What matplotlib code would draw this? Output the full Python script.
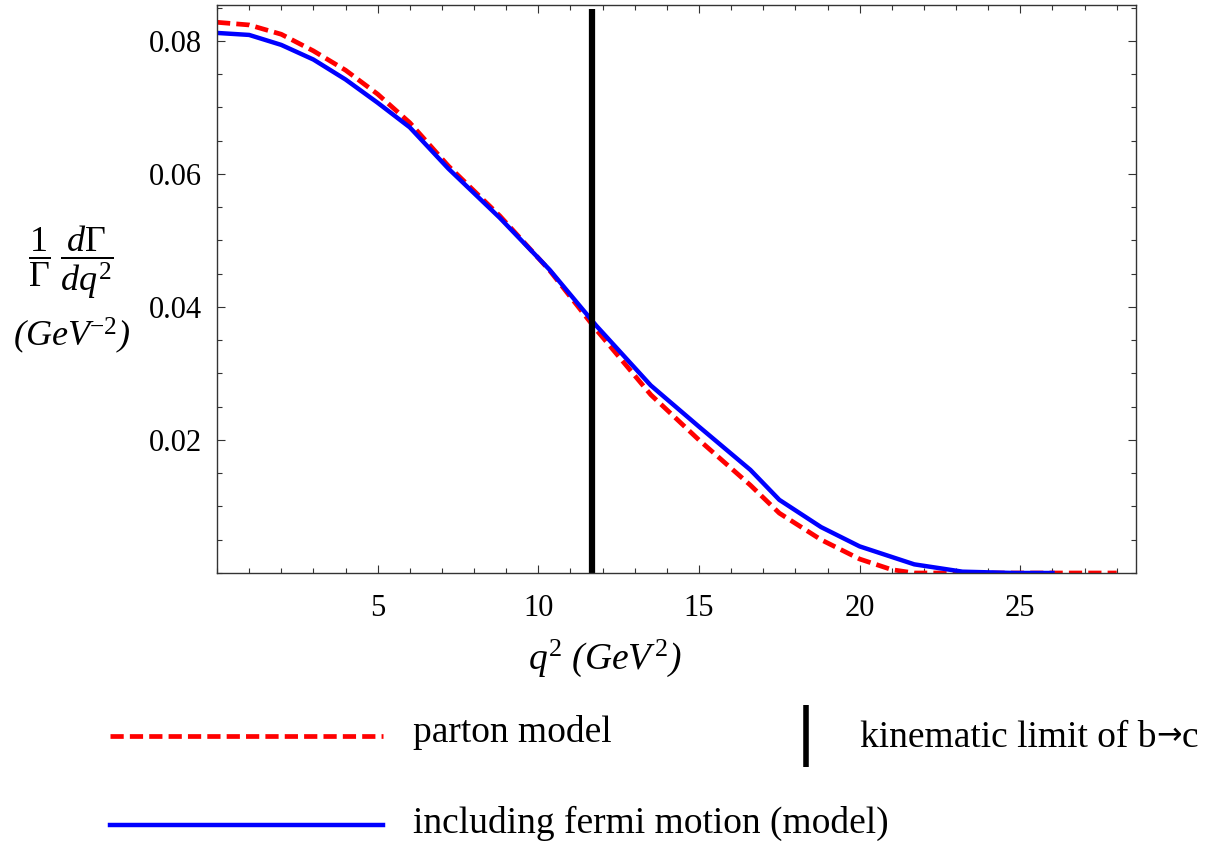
import matplotlib
matplotlib.use("Agg")
import matplotlib.pyplot as plt
from matplotlib.lines import Line2D
from matplotlib.ticker import MultipleLocator

plt.rcParams['font.family'] = ['Liberation Serif', 'DejaVu Serif']
plt.rcParams['mathtext.fontset'] = 'custom'
plt.rcParams['mathtext.rm'] = 'Liberation Serif'
plt.rcParams['mathtext.it'] = 'Liberation Serif:italic'

# q^2 en GeV^2
q2_parton = [0, 1, 2, 3, 4, 5, 6, 7.2, 8.8, 10.35, 11.8, 13.5, 15, 16.6,
             17.5, 18.8, 20, 21, 21.7, 24, 26, 28]
rate_parton = [0.0828, 0.0824, 0.0810, 0.0785, 0.0756, 0.0720, 0.0677, 0.0612,
               0.0537, 0.0455, 0.0366, 0.0268, 0.0200, 0.0132, 0.0090, 0.0050,
               0.0021, 0.0005, 0.0, 0.0, 0.0, 0.0]

q2_fermi = [0, 1, 2, 3, 4, 5, 6, 7.2, 8.8, 10.35, 11.8, 13.5, 15, 16.6,
            17.5, 18.8, 20, 21.7, 23.2, 24.8, 26]
rate_fermi = [0.0812, 0.0809, 0.0794, 0.0772, 0.0742, 0.0707, 0.0670, 0.0608,
              0.0534, 0.0456, 0.0372, 0.0282, 0.0220, 0.0155, 0.0110, 0.0069,
              0.0040, 0.0013, 0.0002, 0.0, 0.0]

q2_limit = 11.68
x_ticks = [5, 10, 15, 20, 25]
y_ticks = [0.02, 0.04, 0.06, 0.08]

fig = plt.figure(figsize=(12.15, 8.41), dpi=100)
ax = fig.add_axes([217/1215, 1-573/841, (1136-217)/1215, (573-5)/841])

ax.plot(q2_parton, rate_parton, color='#ff0000', lw=3.4, dashes=(2.8, 1.3))
ax.plot(q2_fermi, rate_fermi, color='#0000ff', lw=3.2)
ax.plot([q2_limit, q2_limit], [0, 0.0848], color='black', lw=4.5, solid_capstyle='butt')

ax.set_xlim(0, 28.6)
ax.set_ylim(0, 0.0854)
ax.set_xticks(x_ticks)
ax.set_yticks(y_ticks)
ax.set_yticklabels([f"{v:.2f}" for v in y_ticks])
ax.xaxis.set_minor_locator(MultipleLocator(1))
ax.yaxis.set_minor_locator(MultipleLocator(0.005))
ax.tick_params(which='both', direction='in', top=True, right=True, width=0.8, color='#333333')
ax.tick_params(which='major', length=6, labelsize=22)
ax.tick_params(axis='x', which='major', pad=15)
ax.tick_params(axis='y', which='major', pad=11)
ax.tick_params(which='minor', length=3.5)
for s in ax.spines.values():
    s.set_linewidth(1.0)
    s.set_color('#333333')

# titres des axes
fig.text(605/1215, 1-658/841, r'$q^{2}$ (GeV$^{\,2}$)', fontsize=27, style='italic',
         ha='center', va='center')
fig.text(71/1215, 1-262/841, r'$\dfrac{1}{\Gamma}\;\dfrac{\mathit{d}\Gamma}{\mathit{dq}^{2}}$',
         fontsize=26, ha='center', va='center')
fig.text(72/1215, 1-336/841, r'(GeV$^{-2}$)', fontsize=26, style='italic',
         ha='center', va='center')

# légende dessinée à la main
fig.add_artist(Line2D([110/1215, 383/1215], [1-736/841, 1-736/841], color='#ff0000',
                      lw=3.4, dashes=(2.8, 1.3)))
fig.add_artist(Line2D([110/1215, 383/1215], [1-825/841, 1-825/841], color='#0000ff', lw=3.2))
fig.add_artist(Line2D([806/1215, 806/1215], [1-705/841, 1-767/841], color='black',
                      lw=4.0, solid_capstyle='butt'))
fig.text(413/1215, 1-733/841, 'parton model', fontsize=27, va='center')
fig.text(413/1215, 1-823/841, 'including fermi motion (model)', fontsize=27, va='center')

# texte avec une flèche plus large (DejaVu) entre b et c
t1 = fig.text(860/1215, 1-738/841, 'kinematic limit of b', fontsize=27, va='center')
fig.canvas.draw()
x_end = fig.transFigure.inverted().transform(t1.get_window_extent().get_points())[1][0]
t2 = fig.text(x_end, 1-736/841, '→', fontsize=22, va='center', family='DejaVu Sans')
fig.canvas.draw()
x_end2 = fig.transFigure.inverted().transform(t2.get_window_extent().get_points())[1][0]
fig.text(x_end2, 1-738/841, 'c', fontsize=27, va='center')

fig.savefig('out.png', dpi=100)
